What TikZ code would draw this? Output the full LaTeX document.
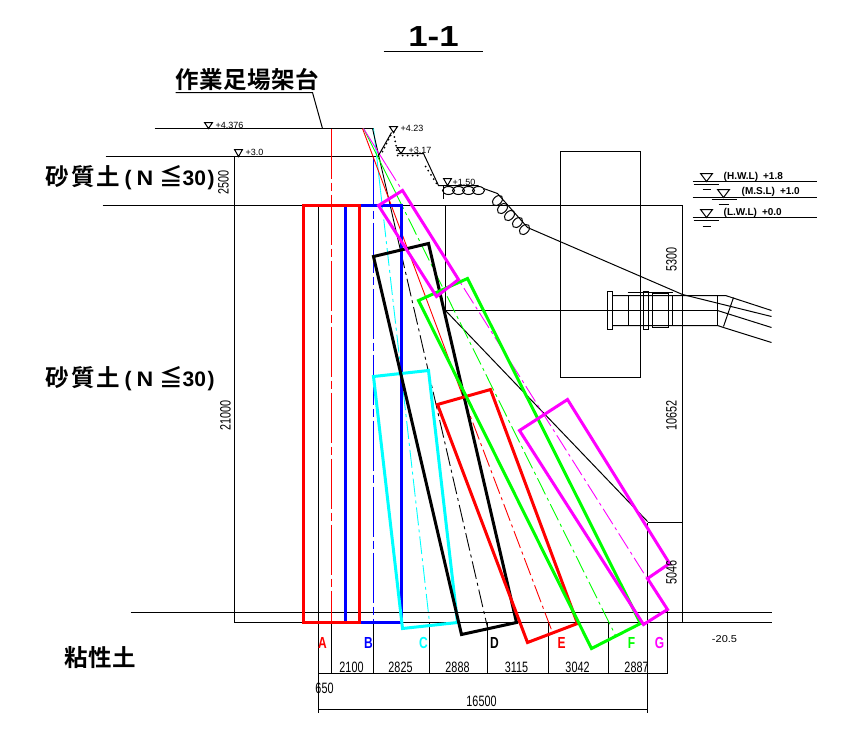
\documentclass[tikz,border=0pt]{standalone}
\usepackage{fontspec}
\setmainfont{Liberation Sans}
\newfontfamily\cjkfont{Noto Sans CJK JP}[BoldFont={Noto Sans CJK JP Bold}]
\definecolor{pcyan}{RGB}{0,255,255}
\definecolor{pmag}{RGB}{255,0,255}
\definecolor{pgreen}{RGB}{0,255,0}
\definecolor{pred}{RGB}{255,0,0}
\definecolor{pblue}{RGB}{0,0,255}
\tikzset{
  x=1pt,y=-1pt,
  thin line/.style={line width=1pt,black},
  box line/.style={line width=3pt,line join=miter,line cap=rect},
  center dash/.style={line width=0.9pt,dash pattern=on 18pt off 4pt on 3pt off 4pt},
  plumb dash/.style={line width=1pt,dash pattern=on 50pt off 4pt on 8pt off 4pt},
  solid part/.style={line width=0.9pt},
  dim text/.style={inner sep=0pt,font=\fontsize{15}{15}\selectfont},
  heading/.style={inner sep=0pt,anchor=west,font=\cjkfont\bfseries\fontsize{23.5}{24}\selectfont},
  tag/.style={inner sep=0pt,font=\bfseries\fontsize{16}{16}\selectfont},
  level/.style={inner sep=0pt,anchor=west,font=\fontsize{9}{9}\selectfont},
  water/.style={inner sep=0pt,anchor=west,font=\bfseries\fontsize{10}{10}\selectfont},
}
\newcommand{\dimnum}[1]{\scalebox{0.72}[1]{#1}}
\newcommand{\wtri}[3]{\draw[thin line] (#1-6,#2) -- (#1+6,#2) -- (#1,#3) -- cycle;}
\newcommand{\latinpart}[1]{{\rmfamily\bfseries\fontsize{21}{21}\selectfont #1}}
\newcommand{\sandtext}{\makebox[25.5pt][l]{砂}\makebox[25pt][l]{質}\makebox[28.5pt][l]{土}\makebox[12pt][l]{\latinpart{(}}\makebox[23pt][l]{\latinpart{\scalebox{1.1}[1]{N}}}\makebox[23pt][l]{≦}\makebox[25pt][l]{\latinpart{30}}\latinpart{)}}
\begin{document}
\begin{tikzpicture}
\useasboundingbox (0,0) rectangle (853,736);
\fill[white] (0,0) rectangle (853,736);
\begin{scope}[shift={(0.5,0.5)}]
% title
\node[inner sep=0pt,font=\bfseries\fontsize{29}{29}\selectfont] (title) at (433,36) {\scalebox{1.2}[1]{1-1}};
\draw[thin line] (383,51) -- (482,51);
\node[heading] (scaffold) at (175,79) {\makebox[24pt][l]{作}\makebox[24pt][l]{業}\makebox[24pt][l]{足}\makebox[24pt][l]{場}\makebox[24pt][l]{架}台};
\draw[thin line] (175,92) -- (312,92) -- (322,128);
% horizontals
\draw[thin line] (154,128) -- (373,128);
\draw[thin line] (105,156) -- (378,156);
\draw[thin line] (102,205) -- (682,205);
\draw[thin line] (130,612) -- (771,612);
\draw[thin line] (234,622) -- (771,622);
\draw[thin line] (234,156) -- (234,622);
\draw[thin line] (682,205) -- (682,622);
\draw[thin line] (647,522) -- (682,522);
\draw[thin line] (445,205) -- (445,310) -- (717,310);
\draw[thin line] (445,310) -- (647,521);
\draw[thin line] (560,151) rectangle (640,377);
% vertical dims
\draw[thin line] (318,205) -- (318,712);
\draw[thin line] (647,522) -- (647,712);
\draw[thin line] (667,609) -- (667,673);
\foreach \xx in {331,373,429,487,548,608} \draw[thin line] (\xx,622) -- (\xx,673);
\draw[thin line] (318,673) -- (667,673);
\draw[thin line] (318,709) -- (647,709);
% centre lines
\draw[plumb dash,pred] (331,128) -- (331,622);
\draw[plumb dash,pblue] (373,156) -- (373,622);
% inclined centre lines
\draw[solid part,pcyan] (373,128) -- (380,190);
\draw[center dash,pcyan] (380,190) -- (429,622);
\draw[solid part,black] (372,128) -- (400,250);
\draw[center dash,black] (400,250) -- (487,627);
\draw[solid part,pred] (362,128) -- (462,395);
\draw[center dash,pred] (462,395) -- (552,632);
\draw[solid part,pgreen] (363,128) -- (395,192);
\draw[center dash,pgreen] (395,192) -- (615,635);
\draw[solid part,pmag] (363,128) -- (386,165);
\draw[center dash,pmag] (386,165) -- (646,577);
% ground
\draw[thin line] (378,155) -- (391,132);
\draw[thin line] (397,153) -- (423,153) -- (438,185) -- (478,185);
\draw[thin line] (443,185) -- (443,198);
\draw[thin line] (483,188) -- (497,193) -- (527,227) -- (682,294) -- (771,316);
\foreach \xx in {448,458,468,478} \draw[thin line] (\xx,190) ellipse (6 and 4);
\foreach \xx/\yy in {497/200,502/208,509/215,517/222,524/229}
  \draw[thin line,rotate around={45:(\xx,\yy)}] (\xx,\yy) ellipse (6 and 4);
\draw[line width=2pt,line cap=round,dash pattern=on 0pt off 4.5pt,black] (390,135) -- (381,153);
\draw[line width=2pt,line cap=round,dash pattern=on 0pt off 4.5pt,black] (393,132) -- (397,153);
\draw[line width=2pt,line cap=round,dash pattern=on 0pt off 5pt,black] (397,155) -- (420,155);
\draw[line width=2pt,line cap=round,dash pattern=on 0pt off 5pt,black] (425,166) -- (436,183);
% pipe
\draw[thin line] (607,291) rectangle (612,329);
\draw[thin line] (643,291) rectangle (648,329);
\draw[thin line] (652,293) rectangle (668,327);
\draw[thin line] (612,295) -- (725,295) -- (771,310);
\draw[thin line] (612,325) -- (717,325) -- (723,327) -- (771,342);
\draw[thin line] (717,310) -- (771,327);
\foreach \xx in {628,672,717} \draw[thin line] (\xx,295) -- (\xx,325);
\draw[thin line] (627,292) -- (672,292);
\draw[thin line] (733,297) -- (723,326);
% boxes
\draw[box line,pblue] (359,205) -- (401,205) -- (401,622) -- (359,622);
\draw[box line,pblue] (345,205) -- (345,622);
\draw[box line,pred] (303,205) rectangle (359,622);
\draw[box line,pcyan] (373,376) -- (428,370) -- (457,622) -- (402,628) -- cycle;
\draw[box line,black] (373,256) -- (428,243) -- (516,622) -- (461,634) -- cycle;
\draw[box line,pred] (437,404) -- (490,389) -- (577,623) -- (527,642) -- cycle;
\draw[box line,pgreen] (418,300) -- (467,278) -- (640,623) -- (591,648) -- cycle;
\draw[box line,pmag] (378,205) -- (402,190) -- (458,279) -- (436,296) -- cycle;
\draw[box line,pmag] (519,430) -- (567,399) -- (669,563) -- (647,578) -- (667,609) -- (643,624) -- cycle;
% left texts
\node[heading] (s1) at (45,177) {\sandtext};
\node[heading] (s2) at (45,378) {\sandtext};
\node[heading] (s3) at (64,657) {\makebox[24pt][l]{粘}\makebox[24pt][l]{性}土};
% level marks
\foreach \xx/\yy/\zz in {208/122/128,238/149/156,393/126/132,400.5/147/153,447/178/185} \draw[thin line] (\xx-4,\yy) -- (\xx+4,\yy) -- (\xx,\zz) -- cycle;
\node[level] (l1) at (215,125) {+4.376};
\node[level] (l2) at (245,152) {+3.0};
\node[level] (l3) at (400,128) {+4.23};
\node[level] (l4) at (408,150) {+3.17};
\node[level] (l5) at (452,182) {+1.50};
% water levels
\draw[thin line] (692,181) -- (816,181);
\draw[thin line] (692,197) -- (816,197);
\draw[thin line] (692,217) -- (816,217);
\wtri{706}{173}{181}
\wtri{723}{189}{197}
\wtri{706}{209}{217}
\draw[thin line] (693,184) -- (718,184) (702,189) -- (710,189);
\draw[thin line] (711,199) -- (736,199) (718,204) -- (728,204);
\draw[thin line] (693,220) -- (718,220) (702,226) -- (710,226);
\node[water] (w1) at (723,176) {(H.W.L)\kern 5pt +1.8};
\node[water] (w2) at (741,191) {(M.S.L)\kern 5pt +1.0};
\node[water] (w3) at (723,212) {(L.W.L)\kern 5pt +0.0};
% dims
\node[dim text,rotate=90] (d1) at (223,182) {\dimnum{2500}};
\node[dim text,rotate=90] (d2) at (225,415) {\dimnum{21000}};
\node[dim text,rotate=90] (d3) at (671,259) {\dimnum{5300}};
\node[dim text,rotate=90] (d4) at (671,415) {\dimnum{10652}};
\node[dim text,rotate=90] (d5) at (671,572) {\dimnum{5046}};
\node[inner sep=0pt,font=\fontsize{10}{10}\selectfont] (d6) at (724,639) {\scalebox{1.1}[1]{-20.5}};
\node[dim text] (b1) at (351,667) {\dimnum{2100}};
\node[dim text] (b2) at (400,667) {\dimnum{2825}};
\node[dim text] (b3) at (457,667) {\dimnum{2888}};
\node[dim text] (b4) at (516,667) {\dimnum{3115}};
\node[dim text] (b5) at (577,667) {\dimnum{3042}};
\node[dim text] (b6) at (636,667) {\dimnum{2887}};
\node[dim text] (b7) at (324,688) {\dimnum{650}};
\node[dim text] (b8) at (481,701) {\dimnum{16500}};
% tags
\node[tag,pred] (ta) at (322,642) {\scalebox{0.75}[1]{A}};
\node[tag,pblue] (tb) at (368,642) {\scalebox{0.75}[1]{B}};
\node[tag,pcyan] (tc) at (423,642) {\scalebox{0.75}[1]{C}};
\node[tag,black] (td) at (494,642) {\scalebox{0.75}[1]{D}};
\node[tag,pred] (te) at (561,642) {\scalebox{0.75}[1]{E}};
\node[tag,pgreen] (tf) at (631,642) {\scalebox{0.75}[1]{F}};
\node[tag,pmag] (tg) at (659,642) {\scalebox{0.75}[1]{G}};
\end{scope}
\end{tikzpicture}
\end{document}
